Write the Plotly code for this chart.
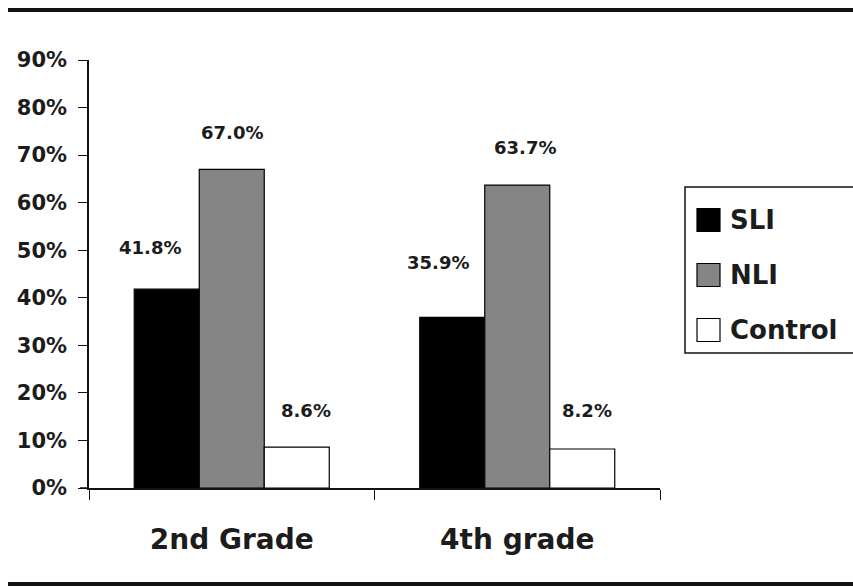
import plotly.graph_objects as go

# Percent of children in each group, by grade
grades = ["2nd Grade", "4th grade"]
groups = ["SLI", "NLI", "Control"]
sli = [41.8, 35.9]
nli = [67.0, 63.7]
control = [8.6, 8.2]
y_ticks = [0, 10, 20, 30, 40, 50, 60, 70, 80, 90]
y_tick_labels = [f"{v}%" for v in y_ticks]

series = [sli, nli, control]
fills = ["#000000", "#858585", "#ffffff"]

FONT = "DejaVu Sans"
INK = "#1c1c1c"

W, H = 853, 588
L, R, T, B = 89, 193, 60, 100
BARGAP = 0.317

fig = go.Figure()
for name, vals, color in zip(groups, series, fills):
    fig.add_trace(go.Bar(
        x=grades, y=vals, name=name,
        marker=dict(color=color, line=dict(color="#000000", width=1.2)),
        showlegend=False, hoverinfo="x+y+name",
    ))

# value labels, sitting above each bar (nudged per bar in pixels)
label_dx = [[-17, -14], [0, 8], [9, 5]]
label_dy = [[42, 55], [37, 38], [37, 39]]
bar_w = (1 - BARGAP) / len(groups)
annotations = []
for j, vals in enumerate(series):
    for i, v in enumerate(vals):
        annotations.append(dict(
            x=i + (j - 1) * bar_w, y=v, xref="x", yref="y",
            text=f"<b>{v:.1f}%</b>", showarrow=False,
            xshift=label_dx[j][i], yshift=label_dy[j][i],
            font=dict(family=FONT, size=18, color=INK),
        ))

# helpers to place decorations in pixel terms
pw, ph = W - L - R, H - T - B
def px(x):
    return (x - L) / pw
def py(y):
    return (H - B - y) / ph

shapes = [
    dict(type="line", xref="paper", yref="paper", x0=px(8), x1=px(860),
         y0=py(10), y1=py(10), line=dict(color="#111111", width=4)),
    dict(type="line", xref="paper", yref="paper", x0=px(8), x1=px(860),
         y0=py(584), y1=py(584), line=dict(color="#111111", width=4)),
    # legend frame
    dict(type="rect", xref="paper", yref="paper", x0=px(685), x1=px(870),
         y0=py(187), y1=py(353), line=dict(color="#111111", width=1.5),
         fillcolor="rgba(0,0,0,0)"),
    # short stub of the category axis left of the value axis
    dict(type="line", xref="paper", yref="paper", x0=px(80), x1=px(89),
         y0=0, y1=0, line=dict(color="#111111", width=1.5)),
]
legend_rows = [220, 275, 330]
for name, color, yc in zip(groups, fills, legend_rows):
    shapes.append(dict(type="rect", xref="paper", yref="paper",
                       x0=px(697), x1=px(720), y0=py(yc - 11.5), y1=py(yc + 11.5),
                       fillcolor=color, line=dict(color="#000000", width=1.2)))
    annotations.append(dict(x=px(728), y=py(yc), xref="paper", yref="paper",
                            xanchor="left", yanchor="middle", showarrow=False,
                            text=f"<b>{name}</b>",
                            font=dict(family=FONT, size=26, color=INK)))

fig.update_layout(
    width=W, height=H,
    margin=dict(l=L, r=R, t=T, b=B, pad=0),
    paper_bgcolor="#ffffff", plot_bgcolor="#ffffff",
    barmode="group", bargap=BARGAP, bargroupgap=0,
    shapes=shapes, annotations=annotations,
    xaxis=dict(
        range=[-0.5, 1.5], tickson="boundaries", ticks="outside", ticklen=10,
        tickcolor="#111111", tickwidth=1.2,
        showline=True, linecolor="#111111", linewidth=1.5,
        showgrid=False, zeroline=False, ticklabelstandoff=26,
        tickfont=dict(family=FONT, size=28, color=INK, weight="bold"),
    ),
    yaxis=dict(
        range=[0, 90], tickvals=y_ticks, ticktext=y_tick_labels,
        ticks="outside", ticklen=9, tickcolor="#111111", tickwidth=1.2,
        showline=True, linecolor="#111111", linewidth=1.5,
        showgrid=False, zeroline=False, ticklabelstandoff=7,
        tickfont=dict(family=FONT, size=21, color=INK, weight="bold"),
    ),
)

fig.write_html("out.html")
